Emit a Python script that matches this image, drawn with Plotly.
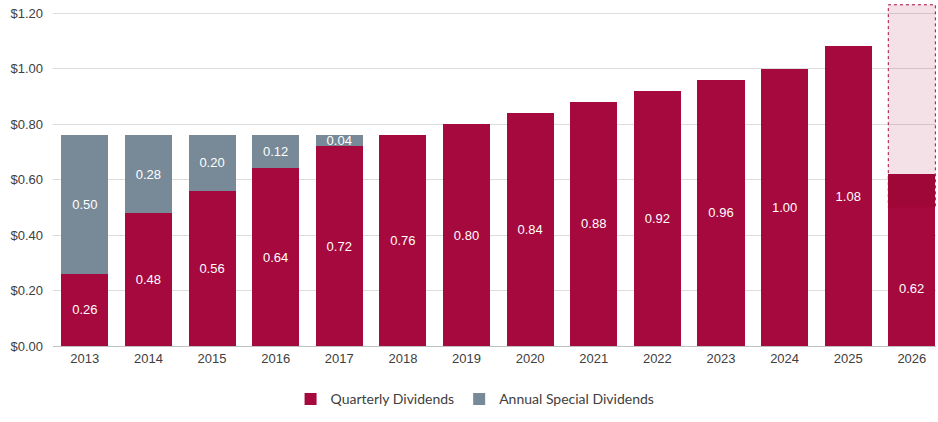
import plotly.graph_objects as go

years = ["2013", "2014", "2015", "2016", "2017", "2018", "2019", "2020",
         "2021", "2022", "2023", "2024", "2025", "2026"]
quarterly = [0.26, 0.48, 0.56, 0.64, 0.72, 0.76, 0.80, 0.84, 0.88, 0.92, 0.96, 1.00, 1.08, 0.62]
special = [0.50, 0.28, 0.20, 0.12, 0.04, 0, 0, 0, 0, 0, 0, 0, 0, 0]
# projected range box on the last year
proj_year = "2026"
proj_low, proj_high = 0.50, 1.23
y_ticks = [0.0, 0.2, 0.4, 0.6, 0.8, 1.0, 1.2]

RED = "#A6093D"
GRAY = "#788A98"
ARIAL = "Arial"

idx = years.index(proj_year)
q_text = [f"{v:.2f}" if i != idx else "" for i, v in enumerate(quarterly)]

fig = go.Figure()
fig.add_bar(x=years, y=quarterly, name="Quarterly Dividends", marker_color=RED,
            marker_line_width=0,
            text=q_text, textposition="inside",
            insidetextanchor="middle", textangle=0,
            textfont=dict(color="white", size=13, family=ARIAL))
fig.add_bar(x=years, y=special, name="Annual Special Dividends", marker_color=GRAY,
            marker_line_width=0,
            text=[f"{v:.2f}" if v > 0 else "" for v in special], textposition="inside",
            insidetextanchor="middle", textangle=0,
            textfont=dict(color="white", size=13, family=ARIAL))

fig.add_shape(type="rect", xref="x", yref="y",
              x0=idx - 0.37, x1=idx + 0.37, y0=proj_low, y1=proj_high,
              fillcolor="rgba(166,9,61,0.12)", line=dict(color=RED, width=1, dash="dot"),
              layer="above")
fig.add_shape(type="rect", xref="x", yref="y",
              x0=idx - 0.37, x1=idx + 0.37, y0=proj_low, y1=quarterly[idx],
              fillcolor="rgba(80,0,20,0.06)", line_width=0, layer="above")
fig.add_annotation(x=idx, y=quarterly[idx] / 3, xref="x", yref="y",
                   text=f"{quarterly[idx]:.2f}",
                   showarrow=False, font=dict(color="white", size=13, family=ARIAL))

fig.update_layout(
    barmode="stack", bargap=0.26,
    width=938, height=422,
    margin=dict(l=53, r=2, t=2, b=76, autoexpand=False),
    plot_bgcolor="white", paper_bgcolor="white",
    uniformtext=dict(minsize=8, mode="show"),
    font=dict(family=ARIAL, color="#404040", size=13),
    legend=dict(orientation="h", x=0.478, xanchor="center", y=-0.155, yanchor="middle",
                font=dict(family="Lato", size=14, color="#404040"),
                itemwidth=30, traceorder="normal"),
    xaxis=dict(type="category", range=[-0.5, 13.38], showline=True,
               linecolor="#BFBFBF", linewidth=1,
               ticks="", tickfont=dict(size=13, color="#404040", family=ARIAL)),
    yaxis=dict(range=[0, 1.24], tickvals=y_ticks,
               ticktext=[f"${v:.2f}" for v in y_ticks],
               showgrid=True, gridcolor="#DDDDDD", gridwidth=1, zeroline=False,
               tickfont=dict(size=13, color="#404040", family=ARIAL), ticklabelstandoff=9),
)
fig.write_html("out.html")
